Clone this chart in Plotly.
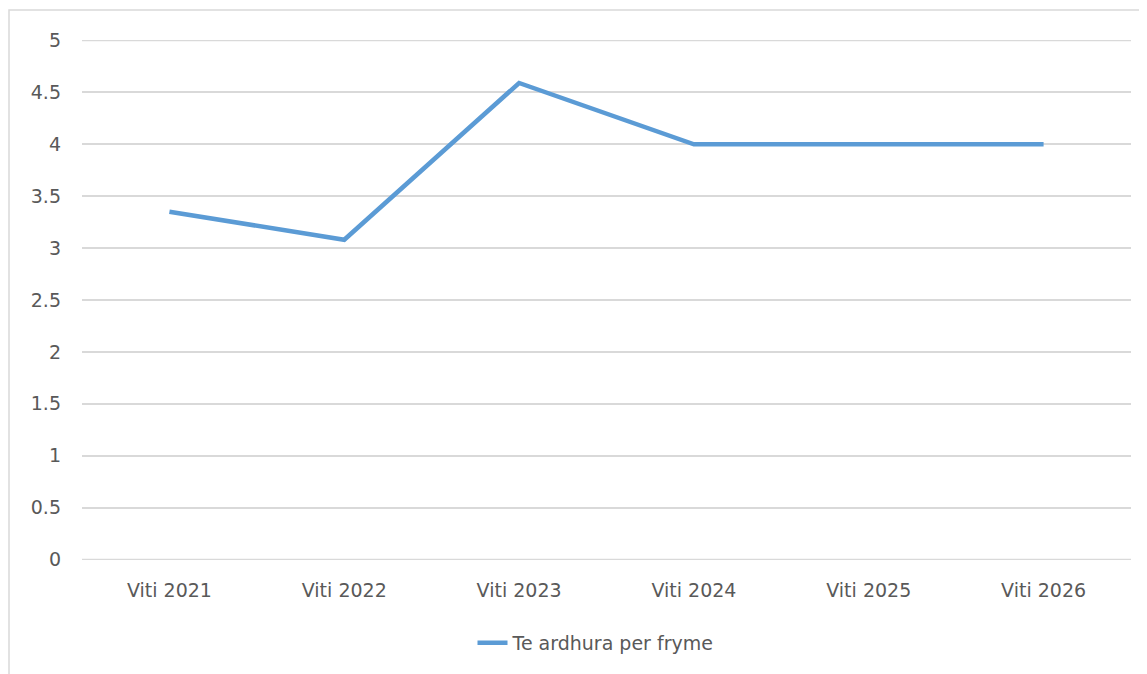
import plotly.graph_objects as go

categories = ["Viti 2021", "Viti 2022", "Viti 2023", "Viti 2024", "Viti 2025", "Viti 2026"]
values = [3.35, 3.08, 4.59, 4.0, 4.0, 4.0]
series_name = "Te ardhura per fryme"
y_ticks = [0, 0.5, 1, 1.5, 2, 2.5, 3, 3.5, 4, 4.5, 5]
y_tick_labels = ["0", "0.5", "1", "1.5", "2", "2.5", "3", "3.5", "4", "4.5", "5"]

# page body adds an 8px offset; compensate so the screenshot lines up
OFF = 8
W, H = 1147, 674
L, R, T, B = 82 - OFF, 16 + OFF, 40 - OFF, 114 + OFF
pw, ph = W - L - R, H - T - B
GRID = "#d9d9d9"

def px_x(sx):
    return (sx - OFF - L) / pw

def px_y(sy):
    return (T + ph - (sy - OFF)) / ph

fig = go.Figure()
fig.add_trace(go.Scatter(
    x=categories, y=values, mode="lines", name=series_name,
    line=dict(color="#5b9bd5", width=4.5),
    showlegend=True,
))

font = dict(family="DejaVu Sans", size=19, color="#595959")

# gridlines at the range edges (plotly drops them), drawn as shapes
edge_lines = [dict(
    type="line", xref="paper", yref="y", x0=0, x1=1,
    y0=v, y1=v, line=dict(color=GRID, width=1.5), layer="below",
) for v in (y_ticks[0], y_ticks[-1])]

fig.update_layout(
    width=W, height=H,
    margin=dict(l=L, r=R, t=T, b=B, pad=0),
    paper_bgcolor="white", plot_bgcolor="white",
    font=font,
    xaxis=dict(
        type="category", range=[-0.5, 5.5], showgrid=False, zeroline=False,
        showline=False, ticks="", ticklabelstandoff=17, tickfont=font,
    ),
    yaxis=dict(
        range=[-0.004, 5.004], tickvals=y_ticks, ticktext=y_tick_labels,
        showgrid=True, gridcolor=GRID, gridwidth=1.5,
        zeroline=False, showline=False, ticks="", ticklabelstandoff=20,
        tickfont=font,
    ),
    legend=dict(
        orientation="h", x=px_x(596), xanchor="center",
        y=px_y(643), yanchor="middle", font=font,
        bgcolor="rgba(0,0,0,0)",
    ),
    shapes=[dict(
        type="rect", xref="paper", yref="paper",
        x0=px_x(9), x1=px_x(W + 40),
        y0=px_y(H + 40), y1=px_y(10),
        line=dict(color=GRID, width=1.5), fillcolor="rgba(0,0,0,0)",
        layer="below",
    )] + edge_lines,
)

fig.write_html("out.html")
